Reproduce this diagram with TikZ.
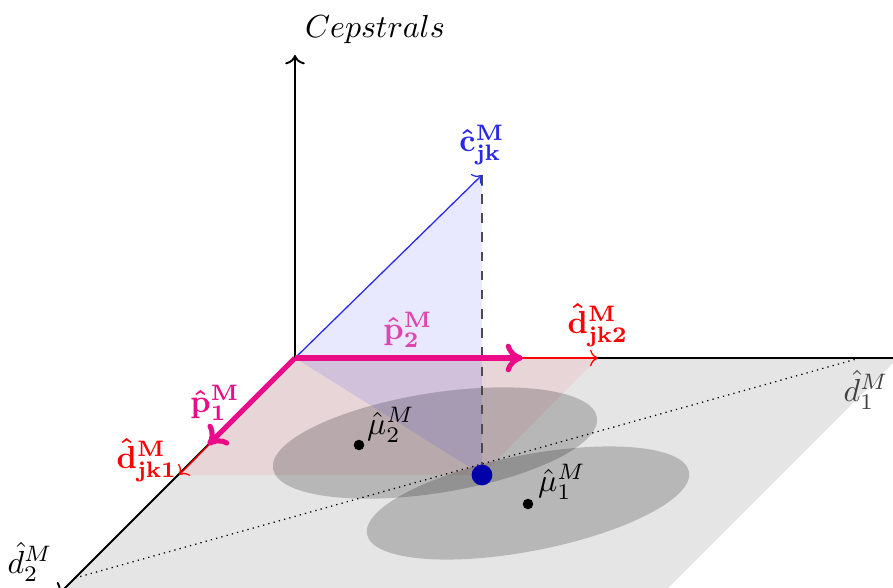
\documentclass[tikz,border=0pt]{standalone}
\usetikzlibrary{calc,arrows.meta}
\definecolor{pinkfill}{RGB}{243,123,137}
\definecolor{parrow}{RGB}{235,10,135}
\definecolor{plabtwo}{RGB}{220,70,175}
\definecolor{dotblue}{RGB}{0,0,170}
\definecolor{cblue}{RGB}{40,40,230}
\begin{document}
\begin{tikzpicture}[x=0.3133pt,y=-0.3133pt,
  axisline/.style={semithick,->},
  dvec/.style={red,thin,->},
  pvec/.style={parrow,ultra thick,-{Computer Modern Rightarrow[length=5.4pt,width=9pt,round]}},
  ellfill/.style={fill=black,opacity=0.2},
  mudot/.style={circle,fill=black,inner sep=0pt,minimum size=3.3pt},
  lab/.style={inner sep=1pt}]
\useasboundingbox (0,0) rectangle (893,588);
\clip (0,0) rectangle (893,588);
% key points
\coordinate (O) at (295,358);
\coordinate (Ytop) at (295,55);
\coordinate (Xend) at (898,358);
\coordinate (Xax) at (910,358);
\coordinate (Zend) at (58,595);
\coordinate (Pbr) at (598,658);
\coordinate (Pbl) at (-5,658);
\coordinate (A2) at (598,358);
\coordinate (A1) at (179,475);
\coordinate (C) at (482,475);
\coordinate (Cv) at (482,175);
\coordinate (P2) at (523,358);
\coordinate (P1) at (208,445);
\coordinate (D1) at (860,358);
\coordinate (D2) at (75,578);
\coordinate (E1) at (435,443);
\coordinate (E2) at (528,503);
% gray plane
\fill[gray!20] (O) -- (Xend) -- (Pbr) -- (Pbl) -- cycle;
% pink projection parallelogram
\fill[pinkfill,opacity=0.15] (O) -- (A2) -- (C) -- (A1) -- cycle;
% gaussians
\fill[ellfill,rotate around={9:(E1)}] (E1) ellipse (164 and 50);
\fill[ellfill,rotate around={11:(E2)}] (E2) ellipse (164 and 48);
% dotted line
\draw[line width=0.4pt,dash pattern=on 0.4pt off 1.3pt] (D2) -- (D1);
% blue triangle
\fill[blue,opacity=0.09] (O) -- (Cv) -- (C) -- cycle;
\draw[dashed,black!70] (Cv) -- (C);
% axes
\draw[axisline] (O) -- (Ytop);
\draw[semithick] (O) -- (Xax);
\draw[axisline] (O) -- (Zend);
% vectors
\draw[cblue,thin,->] (O) -- (Cv);
\draw[dvec] (O) -- (A2);
\draw[dvec] (O) -- (A1);
\draw[pvec] (O) -- (P2);
\draw[pvec] (O) -- (P1);
% points
\node[mudot] (M2) at (359,445) {};
\node[mudot] (M1) at (528,504) {};
\node[circle,fill=dotblue,inner sep=0pt,minimum size=6.5pt] (Cdot) at (C) {};
% labels
\node[lab] (Lcep) at (375,30) {$Cepstrals$};
\node[lab,text=cblue] (Lc) at (482,145) {$\mathbf{\hat{c}^{M}_{jk}}$};
\node[lab,text=plabtwo] (Lp2) at (408,330) {$\mathbf{\hat{p}^{M}_{2}}$};
\node[lab,text=red] (Ld2) at (598,325) {$\mathbf{\hat{d}^{M}_{jk2}}$};
\node[lab,text=parrow] (Lp1) at (215,403) {$\mathbf{\hat{p}^{M}_{1}}$};
\node[lab,text=red] (Ld1) at (147,460) {$\mathbf{\hat{d}^{M}_{jk1}}$};
\node[lab,text=black!75] (Ldd1) at (866,390) {$\hat{d}^{M}_{1}$};
\node[lab] (Ldd2) at (30,562) {$\hat{d}^{M}_{2}$};
\node[lab] (Lm2) at (391,425) {$\hat{\mu}^{M}_{2}$};
\node[lab] (Lm1) at (562,482) {$\hat{\mu}^{M}_{1}$};
\end{tikzpicture}
\end{document}
